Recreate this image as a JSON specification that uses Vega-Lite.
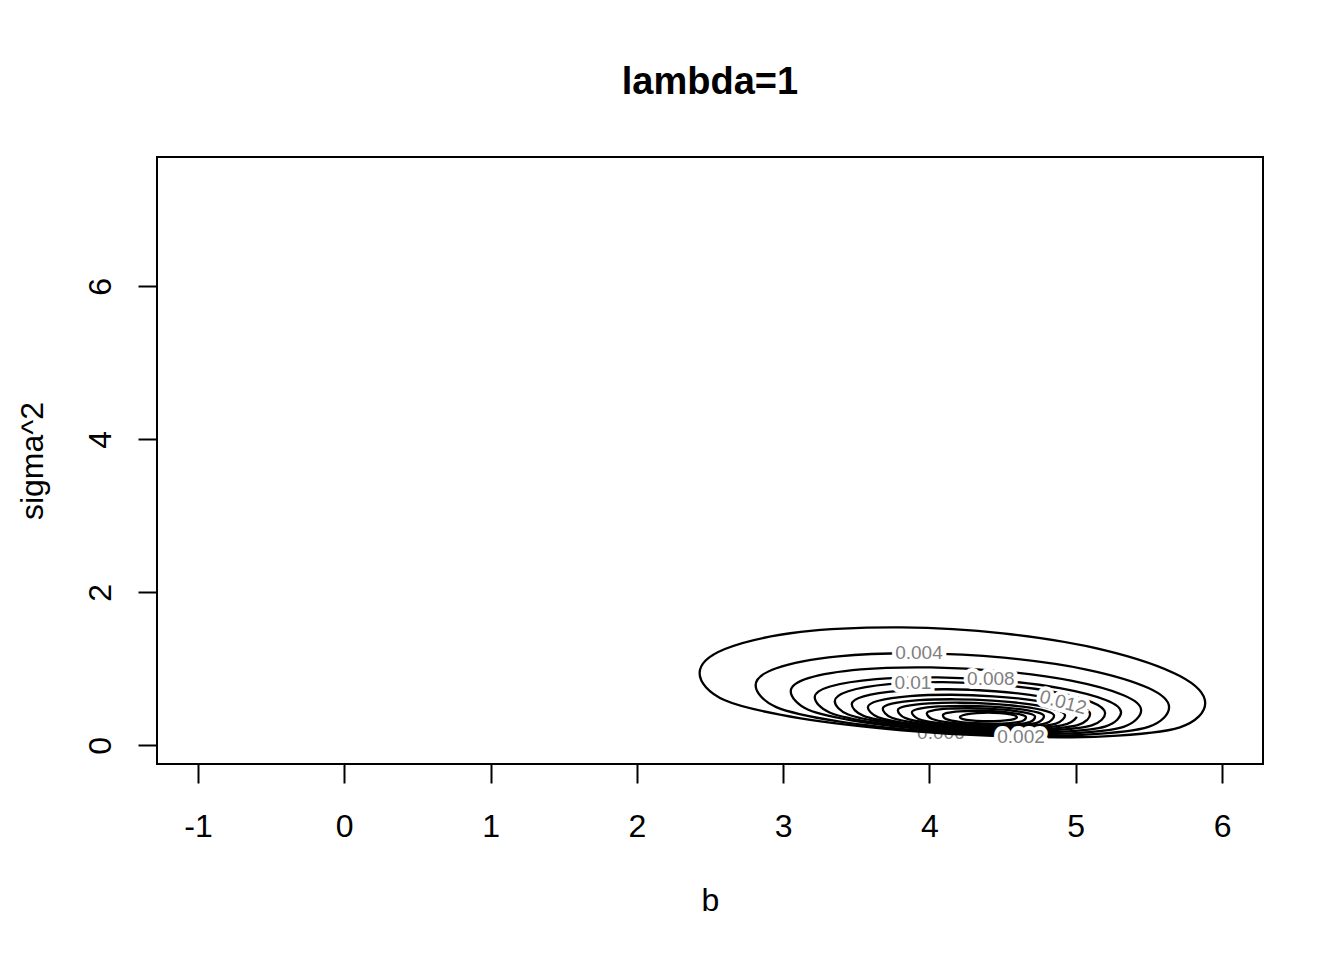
{
  "$schema": "https://vega.github.io/schema/vega-lite/v6.json",
  "width": 1106,
  "height": 607,
  "autosize": {"type": "none"},
  "padding": {"left": 157, "top": 157, "right": 81, "bottom": 196},
  "background": "white",
  "title": {
    "text": "lambda=1",
    "font": "Liberation Sans",
    "fontSize": 38,
    "fontWeight": "bold",
    "color": "black",
    "anchor": "middle",
    "baseline": "alphabetic",
    "offset": 25
  },
  "config": {
    "view": {"stroke": "black", "strokeWidth": 2},
    "axis": {
      "domain": false,
      "grid": false,
      "ticks": true,
      "tickColor": "black",
      "tickWidth": 2,
      "tickSize": 19,
      "labelFont": "Liberation Sans",
      "labelFontSize": 32,
      "labelColor": "black",
      "labelFlush": false,
      "labelOverlap": false,
      "titleFont": "Liberation Sans",
      "titleFontSize": 32,
      "titleFontWeight": "normal",
      "titleColor": "black"
    }
  },
  "datasets": {
    "contours": [
      {"lv": 0.002, "i": 0, "b": 2.429, "s2": 0.941},
      {"lv": 0.002, "i": 1, "b": 2.602, "s2": 1.258},
      {"lv": 0.002, "i": 2, "b": 3.120, "s2": 1.481},
      {"lv": 0.002, "i": 3, "b": 3.811, "s2": 1.541},
      {"lv": 0.002, "i": 4, "b": 4.503, "s2": 1.463},
      {"lv": 0.002, "i": 5, "b": 5.194, "s2": 1.245},
      {"lv": 0.002, "i": 6, "b": 5.712, "s2": 0.905},
      {"lv": 0.002, "i": 7, "b": 5.885, "s2": 0.549},
      {"lv": 0.002, "i": 8, "b": 5.712, "s2": 0.235},
      {"lv": 0.002, "i": 9, "b": 5.194, "s2": 0.117},
      {"lv": 0.002, "i": 10, "b": 4.503, "s2": 0.117},
      {"lv": 0.002, "i": 11, "b": 3.811, "s2": 0.196},
      {"lv": 0.002, "i": 12, "b": 3.120, "s2": 0.352},
      {"lv": 0.002, "i": 13, "b": 2.602, "s2": 0.588},

      {"lv": 0.004, "i": 0, "b": 2.812, "s2": 0.784},
      {"lv": 0.004, "i": 1, "b": 2.953, "s2": 1.007},
      {"lv": 0.004, "i": 2, "b": 3.377, "s2": 1.162},
      {"lv": 0.004, "i": 3, "b": 3.942, "s2": 1.202},
      {"lv": 0.004, "i": 4, "b": 4.508, "s2": 1.145},
      {"lv": 0.004, "i": 5, "b": 5.073, "s2": 0.990},
      {"lv": 0.004, "i": 6, "b": 5.497, "s2": 0.748},
      {"lv": 0.004, "i": 7, "b": 5.638, "s2": 0.497},
      {"lv": 0.004, "i": 8, "b": 5.497, "s2": 0.240},
      {"lv": 0.004, "i": 9, "b": 5.073, "s2": 0.140},
      {"lv": 0.004, "i": 10, "b": 4.508, "s2": 0.134},
      {"lv": 0.004, "i": 11, "b": 3.942, "s2": 0.191},
      {"lv": 0.004, "i": 12, "b": 3.377, "s2": 0.312},
      {"lv": 0.004, "i": 13, "b": 2.953, "s2": 0.499},

      {"lv": 0.006, "i": 0, "b": 3.052, "s2": 0.706},
      {"lv": 0.006, "i": 1, "b": 3.172, "s2": 0.877},
      {"lv": 0.006, "i": 2, "b": 3.531, "s2": 0.992},
      {"lv": 0.006, "i": 3, "b": 4.010, "s2": 1.018},
      {"lv": 0.006, "i": 4, "b": 4.489, "s2": 0.969},
      {"lv": 0.006, "i": 5, "b": 4.968, "s2": 0.844},
      {"lv": 0.006, "i": 6, "b": 5.327, "s2": 0.654},
      {"lv": 0.006, "i": 7, "b": 5.447, "s2": 0.458},
      {"lv": 0.006, "i": 8, "b": 5.327, "s2": 0.241},
      {"lv": 0.006, "i": 9, "b": 4.968, "s2": 0.156},
      {"lv": 0.006, "i": 10, "b": 4.489, "s2": 0.152},
      {"lv": 0.006, "i": 11, "b": 4.010, "s2": 0.202},
      {"lv": 0.006, "i": 12, "b": 3.531, "s2": 0.305},
      {"lv": 0.006, "i": 13, "b": 3.172, "s2": 0.464},

      {"lv": 0.008, "i": 0, "b": 3.216, "s2": 0.627},
      {"lv": 0.008, "i": 1, "b": 3.321, "s2": 0.768},
      {"lv": 0.008, "i": 2, "b": 3.635, "s2": 0.865},
      {"lv": 0.008, "i": 3, "b": 4.054, "s2": 0.888},
      {"lv": 0.008, "i": 4, "b": 4.472, "s2": 0.849},
      {"lv": 0.008, "i": 5, "b": 4.891, "s2": 0.747},
      {"lv": 0.008, "i": 6, "b": 5.205, "s2": 0.592},
      {"lv": 0.008, "i": 7, "b": 5.310, "s2": 0.431},
      {"lv": 0.008, "i": 8, "b": 5.205, "s2": 0.248},
      {"lv": 0.008, "i": 9, "b": 4.891, "s2": 0.176},
      {"lv": 0.008, "i": 10, "b": 4.472, "s2": 0.170},
      {"lv": 0.008, "i": 11, "b": 4.054, "s2": 0.209},
      {"lv": 0.008, "i": 12, "b": 3.635, "s2": 0.293},
      {"lv": 0.008, "i": 13, "b": 3.321, "s2": 0.425},

      {"lv": 0.010, "i": 0, "b": 3.353, "s2": 0.575},
      {"lv": 0.010, "i": 1, "b": 3.445, "s2": 0.706},
      {"lv": 0.010, "i": 2, "b": 3.723, "s2": 0.798},
      {"lv": 0.010, "i": 3, "b": 4.092, "s2": 0.824},
      {"lv": 0.010, "i": 4, "b": 4.462, "s2": 0.792},
      {"lv": 0.010, "i": 5, "b": 4.831, "s2": 0.704},
      {"lv": 0.010, "i": 6, "b": 5.109, "s2": 0.564},
      {"lv": 0.010, "i": 7, "b": 5.201, "s2": 0.418},
      {"lv": 0.010, "i": 8, "b": 5.109, "s2": 0.260},
      {"lv": 0.010, "i": 9, "b": 4.831, "s2": 0.196},
      {"lv": 0.010, "i": 10, "b": 4.462, "s2": 0.189},
      {"lv": 0.010, "i": 11, "b": 4.092, "s2": 0.220},
      {"lv": 0.010, "i": 12, "b": 3.723, "s2": 0.290},
      {"lv": 0.010, "i": 13, "b": 3.445, "s2": 0.402},

      {"lv": 0.012, "i": 0, "b": 3.469, "s2": 0.536},
      {"lv": 0.012, "i": 1, "b": 3.550, "s2": 0.640},
      {"lv": 0.012, "i": 2, "b": 3.795, "s2": 0.712},
      {"lv": 0.012, "i": 3, "b": 4.121, "s2": 0.732},
      {"lv": 0.012, "i": 4, "b": 4.446, "s2": 0.706},
      {"lv": 0.012, "i": 5, "b": 4.772, "s2": 0.634},
      {"lv": 0.012, "i": 6, "b": 5.017, "s2": 0.522},
      {"lv": 0.012, "i": 7, "b": 5.098, "s2": 0.405},
      {"lv": 0.012, "i": 8, "b": 5.017, "s2": 0.266},
      {"lv": 0.012, "i": 9, "b": 4.772, "s2": 0.209},
      {"lv": 0.012, "i": 10, "b": 4.446, "s2": 0.201},
      {"lv": 0.012, "i": 11, "b": 4.121, "s2": 0.227},
      {"lv": 0.012, "i": 12, "b": 3.795, "s2": 0.287},
      {"lv": 0.012, "i": 13, "b": 3.550, "s2": 0.384},

      {"lv": 0.014, "i": 0, "b": 3.579, "s2": 0.497},
      {"lv": 0.014, "i": 1, "b": 3.651, "s2": 0.582},
      {"lv": 0.014, "i": 2, "b": 3.865, "s2": 0.642},
      {"lv": 0.014, "i": 3, "b": 4.151, "s2": 0.660},
      {"lv": 0.014, "i": 4, "b": 4.437, "s2": 0.640},
      {"lv": 0.014, "i": 5, "b": 4.723, "s2": 0.584},
      {"lv": 0.014, "i": 6, "b": 4.938, "s2": 0.494},
      {"lv": 0.014, "i": 7, "b": 5.009, "s2": 0.399},
      {"lv": 0.014, "i": 8, "b": 4.938, "s2": 0.276},
      {"lv": 0.014, "i": 9, "b": 4.723, "s2": 0.223},
      {"lv": 0.014, "i": 10, "b": 4.437, "s2": 0.213},
      {"lv": 0.014, "i": 11, "b": 4.151, "s2": 0.233},
      {"lv": 0.014, "i": 12, "b": 3.865, "s2": 0.282},
      {"lv": 0.014, "i": 13, "b": 3.651, "s2": 0.365},

      {"lv": 0.016, "i": 0, "b": 3.681, "s2": 0.477},
      {"lv": 0.016, "i": 1, "b": 3.743, "s2": 0.543},
      {"lv": 0.016, "i": 2, "b": 3.930, "s2": 0.589},
      {"lv": 0.016, "i": 3, "b": 4.179, "s2": 0.601},
      {"lv": 0.016, "i": 4, "b": 4.429, "s2": 0.584},
      {"lv": 0.016, "i": 5, "b": 4.678, "s2": 0.538},
      {"lv": 0.016, "i": 6, "b": 4.865, "s2": 0.466},
      {"lv": 0.016, "i": 7, "b": 4.927, "s2": 0.392},
      {"lv": 0.016, "i": 8, "b": 4.865, "s2": 0.283},
      {"lv": 0.016, "i": 9, "b": 4.678, "s2": 0.235},
      {"lv": 0.016, "i": 10, "b": 4.429, "s2": 0.226},
      {"lv": 0.016, "i": 11, "b": 4.179, "s2": 0.243},
      {"lv": 0.016, "i": 12, "b": 3.930, "s2": 0.286},
      {"lv": 0.016, "i": 13, "b": 3.743, "s2": 0.359},

      {"lv": 0.018, "i": 0, "b": 3.784, "s2": 0.458},
      {"lv": 0.018, "i": 1, "b": 3.837, "s2": 0.511},
      {"lv": 0.018, "i": 2, "b": 3.998, "s2": 0.547},
      {"lv": 0.018, "i": 3, "b": 4.211, "s2": 0.556},
      {"lv": 0.018, "i": 4, "b": 4.425, "s2": 0.541},
      {"lv": 0.018, "i": 5, "b": 4.638, "s2": 0.504},
      {"lv": 0.018, "i": 6, "b": 4.799, "s2": 0.446},
      {"lv": 0.018, "i": 7, "b": 4.852, "s2": 0.386},
      {"lv": 0.018, "i": 8, "b": 4.799, "s2": 0.289},
      {"lv": 0.018, "i": 9, "b": 4.638, "s2": 0.247},
      {"lv": 0.018, "i": 10, "b": 4.425, "s2": 0.238},
      {"lv": 0.018, "i": 11, "b": 4.211, "s2": 0.253},
      {"lv": 0.018, "i": 12, "b": 3.998, "s2": 0.290},
      {"lv": 0.018, "i": 13, "b": 3.837, "s2": 0.354},

      {"lv": 0.020, "i": 0, "b": 3.880, "s2": 0.431},
      {"lv": 0.020, "i": 1, "b": 3.925, "s2": 0.475},
      {"lv": 0.020, "i": 2, "b": 4.061, "s2": 0.507},
      {"lv": 0.020, "i": 3, "b": 4.241, "s2": 0.516},
      {"lv": 0.020, "i": 4, "b": 4.422, "s2": 0.506},
      {"lv": 0.020, "i": 5, "b": 4.602, "s2": 0.476},
      {"lv": 0.020, "i": 6, "b": 4.738, "s2": 0.429},
      {"lv": 0.020, "i": 7, "b": 4.783, "s2": 0.379},
      {"lv": 0.020, "i": 8, "b": 4.738, "s2": 0.297},
      {"lv": 0.020, "i": 9, "b": 4.602, "s2": 0.260},
      {"lv": 0.020, "i": 10, "b": 4.422, "s2": 0.251},
      {"lv": 0.020, "i": 11, "b": 4.241, "s2": 0.261},
      {"lv": 0.020, "i": 12, "b": 4.061, "s2": 0.291},
      {"lv": 0.020, "i": 13, "b": 3.925, "s2": 0.344},

      {"lv": 0.022, "i": 0, "b": 3.982, "s2": 0.418},
      {"lv": 0.022, "i": 1, "b": 4.019, "s2": 0.453},
      {"lv": 0.022, "i": 2, "b": 4.130, "s2": 0.478},
      {"lv": 0.022, "i": 3, "b": 4.278, "s2": 0.484},
      {"lv": 0.022, "i": 4, "b": 4.426, "s2": 0.475},
      {"lv": 0.022, "i": 5, "b": 4.574, "s2": 0.451},
      {"lv": 0.022, "i": 6, "b": 4.685, "s2": 0.413},
      {"lv": 0.022, "i": 7, "b": 4.722, "s2": 0.373},
      {"lv": 0.022, "i": 8, "b": 4.685, "s2": 0.303},
      {"lv": 0.022, "i": 9, "b": 4.574, "s2": 0.271},
      {"lv": 0.022, "i": 10, "b": 4.426, "s2": 0.263},
      {"lv": 0.022, "i": 11, "b": 4.278, "s2": 0.272},
      {"lv": 0.022, "i": 12, "b": 4.130, "s2": 0.298},
      {"lv": 0.022, "i": 13, "b": 4.019, "s2": 0.343},

      {"lv": 0.024, "i": 0, "b": 4.092, "s2": 0.392},
      {"lv": 0.024, "i": 1, "b": 4.120, "s2": 0.422},
      {"lv": 0.024, "i": 2, "b": 4.206, "s2": 0.443},
      {"lv": 0.024, "i": 3, "b": 4.319, "s2": 0.451},
      {"lv": 0.024, "i": 4, "b": 4.433, "s2": 0.446},
      {"lv": 0.024, "i": 5, "b": 4.546, "s2": 0.428},
      {"lv": 0.024, "i": 6, "b": 4.632, "s2": 0.398},
      {"lv": 0.024, "i": 7, "b": 4.660, "s2": 0.366},
      {"lv": 0.024, "i": 8, "b": 4.632, "s2": 0.314},
      {"lv": 0.024, "i": 9, "b": 4.546, "s2": 0.290},
      {"lv": 0.024, "i": 10, "b": 4.433, "s2": 0.283},
      {"lv": 0.024, "i": 11, "b": 4.319, "s2": 0.288},
      {"lv": 0.024, "i": 12, "b": 4.206, "s2": 0.306},
      {"lv": 0.024, "i": 13, "b": 4.120, "s2": 0.338},

      {"lv": 0.026, "i": 0, "b": 4.208, "s2": 0.366},
      {"lv": 0.026, "i": 1, "b": 4.228, "s2": 0.392},
      {"lv": 0.026, "i": 2, "b": 4.286, "s2": 0.413},
      {"lv": 0.026, "i": 3, "b": 4.364, "s2": 0.424},
      {"lv": 0.026, "i": 4, "b": 4.442, "s2": 0.424},
      {"lv": 0.026, "i": 5, "b": 4.520, "s2": 0.413},
      {"lv": 0.026, "i": 6, "b": 4.579, "s2": 0.392},
      {"lv": 0.026, "i": 7, "b": 4.598, "s2": 0.366},
      {"lv": 0.026, "i": 8, "b": 4.579, "s2": 0.343},
      {"lv": 0.026, "i": 9, "b": 4.520, "s2": 0.324},
      {"lv": 0.026, "i": 10, "b": 4.442, "s2": 0.315},
      {"lv": 0.026, "i": 11, "b": 4.364, "s2": 0.315},
      {"lv": 0.026, "i": 12, "b": 4.286, "s2": 0.324},
      {"lv": 0.026, "i": 13, "b": 4.228, "s2": 0.343}
    ],
    "labels": [
      {"label": "0.002", "b": 4.626, "s2": 0.105},
      {"label": "0.004", "b": 3.928, "s2": 1.203},
      {"label": "0.006", "b": 4.078, "s2": 0.165},
      {"label": "0.008", "b": 4.420, "s2": 0.862},
      {"label": "0.01", "b": 3.887, "s2": 0.815},
      {"label": "0.012", "b": 4.913, "s2": 0.560}
    ]
  },
  "encoding": {
    "x": {
      "field": "b",
      "type": "quantitative",
      "scale": {"domain": [-1.28, 6.28], "nice": false, "zero": false},
      "axis": {
        "title": "b",
        "values": [-1, 0, 1, 2, 3, 4, 5, 6],
        "labelExpr": "'' + datum.value",
        "labelAlign": "center",
        "labelBaseline": "alphabetic",
        "labelPadding": 53,
        "titleX": 553,
        "titleY": 146,
        "titleAlign": "center",
        "titleBaseline": "alphabetic"
      }
    },
    "y": {
      "field": "s2",
      "type": "quantitative",
      "scale": {"domain": [-0.245, 7.69], "nice": false, "zero": false},
      "axis": {
        "title": "sigma^2",
        "values": [0, 2, 4, 6],
        "labelExpr": "'' + datum.value",
        "labelAngle": -90,
        "labelAlign": "center",
        "labelBaseline": "alphabetic",
        "labelPadding": 28,
        "titleAngle": -90,
        "titleX": -115,
        "titleY": 303.5,
        "titleAlign": "center",
        "titleBaseline": "alphabetic"
      }
    }
  },
  "layer": [
    {
      "data": {"name": "labels"},
      "transform": [{"filter": "datum.label == '0.006'"}],
      "mark": {"type": "text", "font": "Liberation Sans", "fontSize": 19, "color": "#808080", "align": "center", "baseline": "middle"},
      "encoding": {"text": {"field": "label"}}
    },
    {
      "data": {"name": "contours"},
      "mark": {"type": "line", "interpolate": "cardinal-closed", "color": "black", "strokeWidth": 2.3},
      "encoding": {
        "detail": {"field": "lv", "type": "nominal"},
        "order": {"field": "i", "type": "quantitative"}
      }
    },
    {
      "data": {"name": "labels"},
      "transform": [{"filter": "datum.label != '0.006' && datum.label != '0.012'"}],
      "mark": {"type": "text", "font": "Liberation Sans", "fontSize": 19, "fill": "white", "stroke": "white", "strokeWidth": 8, "align": "center", "baseline": "middle"},
      "encoding": {"text": {"field": "label"}}
    },
    {
      "data": {"name": "labels"},
      "transform": [{"filter": "datum.label == '0.012'"}],
      "mark": {"type": "text", "font": "Liberation Sans", "fontSize": 19, "angle": 15, "fill": "white", "stroke": "white", "strokeWidth": 8, "align": "center", "baseline": "middle"},
      "encoding": {"text": {"field": "label"}}
    },
    {
      "data": {"name": "labels"},
      "transform": [{"filter": "datum.label != '0.006' && datum.label != '0.012'"}],
      "mark": {"type": "text", "font": "Liberation Sans", "fontSize": 19, "color": "#808080", "align": "center", "baseline": "middle"},
      "encoding": {"text": {"field": "label"}}
    },
    {
      "data": {"name": "labels"},
      "transform": [{"filter": "datum.label == '0.012'"}],
      "mark": {"type": "text", "font": "Liberation Sans", "fontSize": 19, "angle": 15, "color": "#808080", "align": "center", "baseline": "middle"},
      "encoding": {"text": {"field": "label"}}
    }
  ]
}
